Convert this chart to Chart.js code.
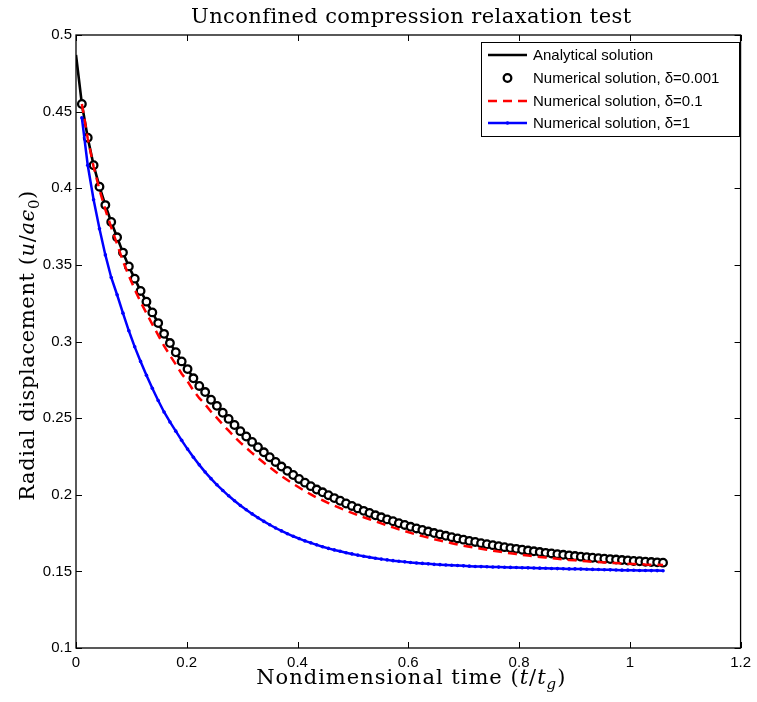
<!DOCTYPE html>
<html>
<head>
<meta charset="utf-8">
<script src="https://cdn.jsdelivr.net/npm/chart.js@4.4.1/dist/chart.umd.min.js"></script>
<style>
  html, body { margin: 0; padding: 0; background: #fff; }
  #chart { display: block; }
</style>
</head>
<body>
<canvas id="chart" width="757" height="702"></canvas>
<script>
// time samples of the numerical solutions (t/tg)
const timeSteps = [
  0.0106, 0.0212, 0.0318, 0.0424, 0.053, 0.0636, 0.0742, 0.0848, 0.0954, 0.106,
  0.1166, 0.1272, 0.1378, 0.1484, 0.159, 0.1696, 0.1802, 0.1908, 0.2014, 0.212,
  0.2226, 0.2332, 0.2438, 0.2544, 0.265, 0.2756, 0.2862, 0.2968, 0.3074, 0.318,
  0.3286, 0.3392, 0.3498, 0.3604, 0.371, 0.3816, 0.3922, 0.4028, 0.4134, 0.424,
  0.4346, 0.4452, 0.4558, 0.4664, 0.477, 0.4876, 0.4982, 0.5088, 0.5194, 0.53,
  0.5406, 0.5512, 0.5618, 0.5724, 0.583, 0.5936, 0.6042, 0.6148, 0.6254, 0.636,
  0.6466, 0.6572, 0.6678, 0.6784, 0.689, 0.6996, 0.7102, 0.7208, 0.7314, 0.742,
  0.7526, 0.7632, 0.7738, 0.7844, 0.795, 0.8056, 0.8162, 0.8268, 0.8374, 0.848,
  0.8586, 0.8692, 0.8798, 0.8904, 0.901, 0.9116, 0.9222, 0.9328, 0.9434, 0.954,
  0.9646, 0.9752, 0.9858, 0.9964, 1.007, 1.0176, 1.0282, 1.0388, 1.0494, 1.06
];

// delta = 0.001 (circles)
const fineValues = [
  0.455, 0.433, 0.415, 0.401, 0.389, 0.378, 0.368, 0.358, 0.349, 0.341,
  0.333, 0.326, 0.319, 0.312, 0.305, 0.299, 0.293, 0.287, 0.282, 0.276,
  0.271, 0.267, 0.262, 0.258, 0.2535, 0.2495, 0.2455, 0.2415, 0.238, 0.2345,
  0.231, 0.2277, 0.2245, 0.2214, 0.2184, 0.2156, 0.2129, 0.2103, 0.2079, 0.2056,
  0.2034, 0.2016, 0.1997, 0.1978, 0.1961, 0.1943, 0.1927, 0.1911, 0.1895, 0.1881,
  0.1866, 0.1853, 0.1839, 0.1827, 0.1814, 0.1803, 0.1791, 0.178, 0.177, 0.176,
  0.175, 0.1741, 0.1732, 0.1723, 0.1715, 0.1707, 0.1699, 0.1692, 0.1684, 0.1677,
  0.1671, 0.1664, 0.1658, 0.1652, 0.1647, 0.1641, 0.1636, 0.1631, 0.1626, 0.1621,
  0.1617, 0.1612, 0.1608, 0.1604, 0.16, 0.1596, 0.1593, 0.1589, 0.1586, 0.1583,
  0.158, 0.1577, 0.1574, 0.1571, 0.1568, 0.1566, 0.1563, 0.1561, 0.1559, 0.1557
];

// delta = 0.1 (red dashed)
const mediumValues = [
  0.455, 0.4325, 0.414, 0.399, 0.386, 0.3745, 0.3635, 0.3525, 0.3428, 0.334,
  0.3258, 0.3185, 0.3112, 0.3042, 0.2972, 0.291, 0.285, 0.279, 0.274, 0.268,
  0.263, 0.259, 0.2542, 0.2502, 0.2458, 0.2418, 0.2378, 0.234, 0.2306, 0.2272,
  0.224, 0.2209, 0.2179, 0.215, 0.2122, 0.2096, 0.2071, 0.2047, 0.2024, 0.2002,
  0.1981, 0.1964, 0.1946, 0.1929, 0.1913, 0.1897, 0.1882, 0.1867, 0.1853, 0.184,
  0.1826, 0.1813, 0.1799, 0.1787, 0.1774, 0.1763, 0.1751, 0.174, 0.173, 0.172,
  0.171, 0.1701, 0.1692, 0.1684, 0.1676, 0.1668, 0.1661, 0.1654, 0.1647, 0.1641,
  0.1635, 0.1629, 0.1623, 0.1618, 0.1613, 0.1608, 0.1603, 0.1599, 0.1594, 0.159,
  0.1586, 0.1582, 0.1579, 0.1575, 0.1572, 0.1569, 0.1566, 0.1563, 0.1561, 0.1558,
  0.1556, 0.1554, 0.1552, 0.155, 0.1548, 0.1547, 0.1545, 0.1544, 0.1543, 0.1542
];

// delta = 1 (blue)
const coarseValues = [
  0.446, 0.415, 0.3925, 0.3735, 0.3565, 0.3418, 0.3305, 0.3185, 0.307, 0.2965,
  0.287, 0.278, 0.2695, 0.2615, 0.254, 0.2475, 0.2415, 0.2355, 0.2298, 0.2245,
  0.2195, 0.2148, 0.2105, 0.2065, 0.2028, 0.1993, 0.1961, 0.193, 0.1902, 0.1875,
  0.185, 0.1826, 0.1804, 0.1783, 0.1764, 0.1746, 0.1729, 0.1714, 0.1699, 0.1686,
  0.1673, 0.1661, 0.165, 0.164, 0.1631, 0.1622, 0.1614, 0.1606, 0.1599, 0.1592,
  0.1586, 0.158, 0.1575, 0.157, 0.1566, 0.1562, 0.1558, 0.1555, 0.1552, 0.1549,
  0.1546, 0.1544, 0.1542, 0.154, 0.1538, 0.1536, 0.1534, 0.1532, 0.1531, 0.153,
  0.1529, 0.1528, 0.1527, 0.1526, 0.1525, 0.1524, 0.1523, 0.1522, 0.1521, 0.152,
  0.1519, 0.1518, 0.1517, 0.1516, 0.1516, 0.1515, 0.1514, 0.1513, 0.1512, 0.1511,
  0.151, 0.1509, 0.1508, 0.1508, 0.1507, 0.1506, 0.1506, 0.1505, 0.1505, 0.1504
];

// analytical curve: starting value at t = 0, then follows the circles
const analyticalStart = 0.487;

const xTicks = [0, 0.2, 0.4, 0.6, 0.8, 1, 1.2];
const yTicks = [0.1, 0.15, 0.2, 0.25, 0.3, 0.35, 0.4, 0.45, 0.5];

const legendLabels = [
  "Analytical solution",
  "Numerical solution, \u03b4=0.001",
  "Numerical solution, \u03b4=0.1",
  "Numerical solution, \u03b4=1",
];

const toPoints = (ts, vs) => ts.map((t, i) => ({ x: t, y: vs[i] }));

const SERIF = '"DejaVu Serif", serif';
const SANS = '"Liberation Sans", Arial, sans-serif';

// draw text made of normal / italic / subscript pieces, centred on x
function drawRich(ctx, parts, size, x, y, spacing) {
  const fontFor = (p) =>
    (p.it ? "italic " : "") + (p.sub ? Math.round(size * 0.7) : size) + "px " + SERIF;
  ctx.letterSpacing = spacing + "px";
  let total = 0;
  parts.forEach((p) => {
    ctx.font = fontFor(p);
    p.w = ctx.measureText(p.t).width;
    total += p.w;
  });
  let cx = x - total / 2;
  ctx.textAlign = "left";
  ctx.textBaseline = "alphabetic";
  parts.forEach((p) => {
    ctx.font = fontFor(p);
    ctx.fillText(p.t, cx, y + (p.sub ? size * 0.22 : 0));
    cx += p.w;
  });
  ctx.letterSpacing = "0px";
}

const decorations = {
  id: "decorations",
  afterDraw(chart) {
    const ctx = chart.ctx;
    const area = chart.chartArea;
    const xs = chart.scales.x;
    const ys = chart.scales.y;
    ctx.save();

    // inward ticks on all four sides
    ctx.strokeStyle = "#000";
    ctx.lineWidth = 1;
    ctx.beginPath();
    xTicks.forEach((v) => {
      const px = Math.round(xs.getPixelForValue(v)) + 0.5;
      ctx.moveTo(px, area.bottom);
      ctx.lineTo(px, area.bottom - 6);
      ctx.moveTo(px, area.top);
      ctx.lineTo(px, area.top + 6);
    });
    yTicks.forEach((v) => {
      const py = Math.round(ys.getPixelForValue(v)) + 0.5;
      ctx.moveTo(area.left, py);
      ctx.lineTo(area.left + 6, py);
      ctx.moveTo(area.right, py);
      ctx.lineTo(area.right - 6, py);
    });
    ctx.stroke();

    // axes box
    ctx.lineWidth = 1.3;
    ctx.strokeRect(area.left, area.top, area.right - area.left, area.bottom - area.top);

    // titles
    ctx.fillStyle = "#000";
    const cx = (area.left + area.right) / 2;
    drawRich(ctx, [{ t: "Unconfined compression relaxation test" }], 21, cx + 3, 23, 0.4);
    drawRich(ctx, [
      { t: "Nondimensional time (" },
      { t: "t", it: true },
      { t: "/" },
      { t: "t", it: true },
      { t: "g", it: true, sub: true },
      { t: ")" },
    ], 21, cx + 3, 684, 1);
    ctx.save();
    ctx.translate(34, (area.top + area.bottom) / 2 + 4);
    ctx.rotate(-Math.PI / 2);
    drawRich(ctx, [
      { t: "Radial displacement (" },
      { t: "u", it: true },
      { t: "/" },
      { t: "a\u03f5", it: true },
      { t: "0", sub: true },
      { t: ")" },
    ], 21, 0, 0, 0.6);
    ctx.restore();

    // legend
    const lx = 481, ly = 42, lw = 258, lh = 94;
    ctx.fillStyle = "#fff";
    ctx.fillRect(lx, ly, lw, lh);
    ctx.strokeStyle = "#000";
    ctx.lineWidth = 1;
    ctx.strokeRect(lx + 0.5, ly + 0.5, lw, lh);
    const rows = [55, 78, 101, 123];
    const sx0 = 488, sx1 = 527, smid = (sx0 + sx1) / 2;
    chart.data.datasets.forEach((ds, i) => {
      const y = rows[i];
      ctx.save();
      if (ds.showLine !== false) {
        ctx.strokeStyle = ds.borderColor;
        ctx.lineWidth = ds.borderWidth;
        ctx.setLineDash(ds.borderDash || []);
        ctx.beginPath();
        ctx.moveTo(sx0, y);
        ctx.lineTo(sx1, y);
        ctx.stroke();
      }
      if (ds.pointRadius > 0) {
        ctx.setLineDash([]);
        ctx.beginPath();
        ctx.arc(smid, y, ds.pointRadius, 0, Math.PI * 2);
        ctx.fillStyle = ds.pointBackgroundColor;
        ctx.fill();
        ctx.lineWidth = ds.pointBorderWidth;
        ctx.strokeStyle = ds.pointBorderColor;
        if (ds.pointBorderWidth > 0) ctx.stroke();
      }
      ctx.restore();
      ctx.fillStyle = "#000";
      ctx.font = "15px " + SANS;
      ctx.textAlign = "left";
      ctx.textBaseline = "middle";
      ctx.fillText(legendLabels[i], 533, y + 1);
    });

    ctx.restore();
  },
};

const tickText = (v) => String(parseFloat(Number(v).toFixed(3)));

const ctx = document.getElementById("chart").getContext("2d");
const chart = new Chart(ctx, {
  type: "line",
  data: {
    datasets: [
      {
        label: legendLabels[0],
        data: toPoints([0].concat(timeSteps), [analyticalStart].concat(fineValues)),
        borderColor: "#000000",
        borderWidth: 2.6,
        pointRadius: 0,
        tension: 0,
        order: 3,
      },
      {
        label: legendLabels[1],
        data: toPoints(timeSteps, fineValues),
        showLine: false,
        pointRadius: 3.8,
        pointBorderWidth: 2.3,
        pointBorderColor: "#000000",
        pointBackgroundColor: "#ffffff",
        order: 2,
      },
      {
        label: legendLabels[2],
        data: toPoints(timeSteps, mediumValues),
        borderColor: "#ff0000",
        borderWidth: 2.5,
        borderDash: [9, 6],
        pointRadius: 0,
        tension: 0,
        order: 1,
      },
      {
        label: legendLabels[3],
        data: toPoints(timeSteps, coarseValues),
        borderColor: "#0000ff",
        borderWidth: 2.5,
        pointRadius: 1.8,
        pointBorderWidth: 0,
        pointBorderColor: "#0000ff",
        pointBackgroundColor: "#0000ff",
        tension: 0,
        order: 0,
      },
    ],
  },
  plugins: [decorations],
  options: {
    responsive: false,
    animation: false,
    layout: { padding: { top: 35, right: 12, left: 0, bottom: 0 } },
    plugins: {
      legend: { display: false },
      tooltip: { enabled: false },
      title: { display: false },
    },
    scales: {
      x: {
        type: "linear",
        min: 0,
        max: 1.2,
        afterBuildTicks: (scale) => {
          scale.ticks = xTicks.map((v) => ({ value: v }));
        },
        grid: { display: false, drawTicks: false },
        border: { display: false },
        ticks: {
          padding: 6,
          color: "#000",
          font: { family: SANS, size: 15 },
          maxRotation: 0,
          callback: tickText,
        },
        afterFit: (scale) => {
          scale.height = 54;
        },
      },
      y: {
        type: "linear",
        min: 0.1,
        max: 0.5,
        afterBuildTicks: (scale) => {
          scale.ticks = yTicks.map((v) => ({ value: v }));
        },
        grid: { display: false, drawTicks: false },
        border: { display: false },
        ticks: {
          padding: 4,
          color: "#000",
          font: { family: SANS, size: 15 },
          callback: tickText,
        },
        afterFit: (scale) => {
          scale.width = 76;
        },
      },
    },
  },
});
</script>
</body>
</html>
